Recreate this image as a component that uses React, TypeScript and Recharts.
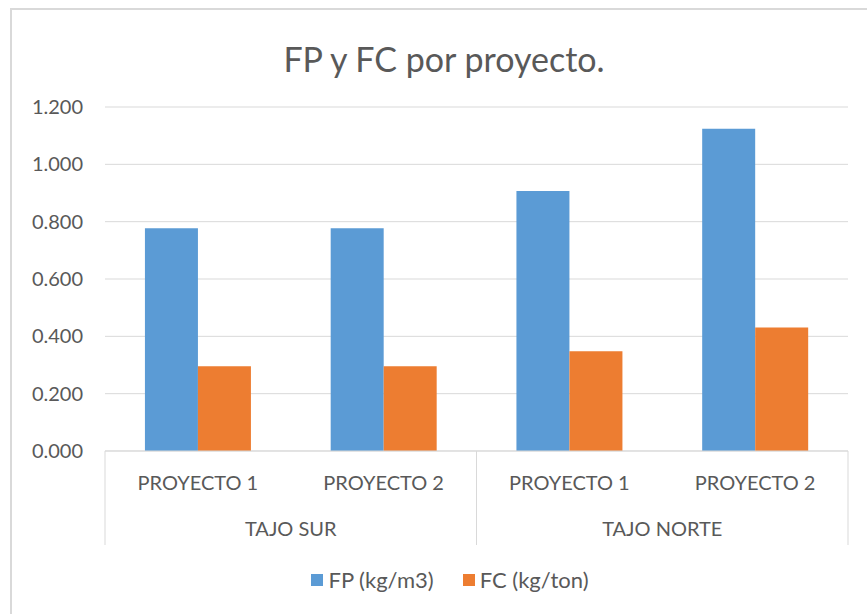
import { BarChart, Bar, XAxis, YAxis, CartesianGrid, Legend } from 'recharts';

const categories = ['PROYECTO 1', 'PROYECTO 2', 'PROYECTO 1', 'PROYECTO 2'];
const groups = ['TAJO SUR', 'TAJO SUR', 'TAJO NORTE', 'TAJO NORTE'];
const fpValues = [0.777, 0.777, 0.907, 1.124];
const fcValues = [0.296, 0.296, 0.348, 0.431];
const yTicks = [0, 0.2, 0.4, 0.6, 0.8, 1.0, 1.2];

const seriesNames = { fp: 'FP (kg/m3)', fc: 'FC (kg/ton)' };
const COLORS = { fp: '#5B9BD5', fc: '#ED7D31' };
const TEXT = '#595959';
const LINE = '#d9d9d9';
const FONT = 'Lato, "Open Sans", sans-serif';

const W = 867;
const H = 614;
const AXIS_H = 94;
const LEGEND_H = 69;

const data = categories.map((c, i) => ({
  key: `${groups[i]}-${c}-${i}`,
  fp: fpValues[i],
  fc: fcValues[i],
}));

function CategoryTick(props: any) {
  const { x, y, index, payload } = props;
  const half = payload?.offset || 92.875;
  const group = groups[index];
  const isFirst = index === 0 || groups[index - 1] !== group;
  const isLast = index === groups.length - 1 || groups[index + 1] !== group;
  const count = groups.filter((g) => g === group).length;
  const groupCenter = x + half - count * half;

  return (
    <g>
      <text x={x} y={y + 39} textAnchor="middle" fill={TEXT} fontSize={20} fontFamily={FONT}>
        {categories[index]}
      </text>
      {isFirst && index === 0 && (
        <line x1={x - half} x2={x - half} y1={y} y2={y + AXIS_H} stroke={LINE} />
      )}
      {isLast && (
        <>
          <line x1={x + half} x2={x + half} y1={y} y2={y + AXIS_H} stroke={LINE} />
          <text x={groupCenter} y={y + 85} textAnchor="middle" fill={TEXT} fontSize={20} fontFamily={FONT}>
            {group}
          </text>
        </>
      )}
    </g>
  );
}

function LegendContent() {
  const items = [
    { name: seriesNames.fp, color: COLORS.fp },
    { name: seriesNames.fc, color: COLORS.fc },
  ];
  return (
    <div
      style={{
        height: LEGEND_H,
        width: W,
        boxSizing: 'border-box',
        paddingLeft: 33,
        display: 'flex',
        alignItems: 'center',
        justifyContent: 'center',
        fontFamily: FONT,
        fontSize: 22,
        color: TEXT,
      }}
    >
      {items.map((it, i) => (
        <div key={it.name} style={{ display: 'flex', alignItems: 'center', marginLeft: i === 0 ? 0 : 29 }}>
          <span style={{ width: 12, height: 12, background: it.color, marginRight: 5, display: 'inline-block' }} />
          <span style={{ lineHeight: 1 }}>{it.name}</span>
        </div>
      ))}
    </div>
  );
}

export default function App() {
  return (
    <div style={{ position: 'absolute', left: 0, top: 0, width: W, height: H, background: '#fff' }}>
      <div
        style={{
          position: 'absolute',
          left: 10,
          top: 8,
          width: W - 10,
          height: H - 8,
          boxSizing: 'border-box',
          borderTop: `2px solid ${LINE}`,
          borderLeft: `2px solid ${LINE}`,
        }}
      />
      <svg width={W} height={100} style={{ position: 'absolute', left: 0, top: 0 }}>
        <text x={444} y={72} textAnchor="middle" fill={TEXT} fontSize={34} fontFamily={FONT}>
          FP y FC por proyecto.
        </text>
      </svg>
      <div style={{ position: 'absolute', left: 0, top: 0 }}>
        <BarChart
          width={W}
          height={H}
          data={data}
          margin={{ top: 107, right: 19, left: 0, bottom: 0 }}
          barCategoryGap="21.5%"
          barGap={0}
        >
          <CartesianGrid vertical={false} stroke={LINE} />
          <YAxis
            width={105}
            domain={[0, 1.2]}
            ticks={yTicks}
            tickFormatter={(v: number) => v.toFixed(3)}
            axisLine={false}
            tickLine={false}
            tickSize={0}
            tickMargin={22}
            tick={{ fill: TEXT, fontSize: 20, fontFamily: FONT }}
          />
          <XAxis
            dataKey="key"
            height={AXIS_H}
            axisLine={{ stroke: LINE }}
            tickLine={false}
            tickSize={0}
            tickMargin={0}
            interval={0}
            tick={<CategoryTick />}
          />
          <Legend verticalAlign="bottom" height={LEGEND_H} content={<LegendContent />} wrapperStyle={{ left: 0, width: W }} />
          <Bar dataKey="fp" name={seriesNames.fp} fill={COLORS.fp} isAnimationActive={false} />
          <Bar dataKey="fc" name={seriesNames.fc} fill={COLORS.fc} isAnimationActive={false} />
        </BarChart>
      </div>
    </div>
  );
}
